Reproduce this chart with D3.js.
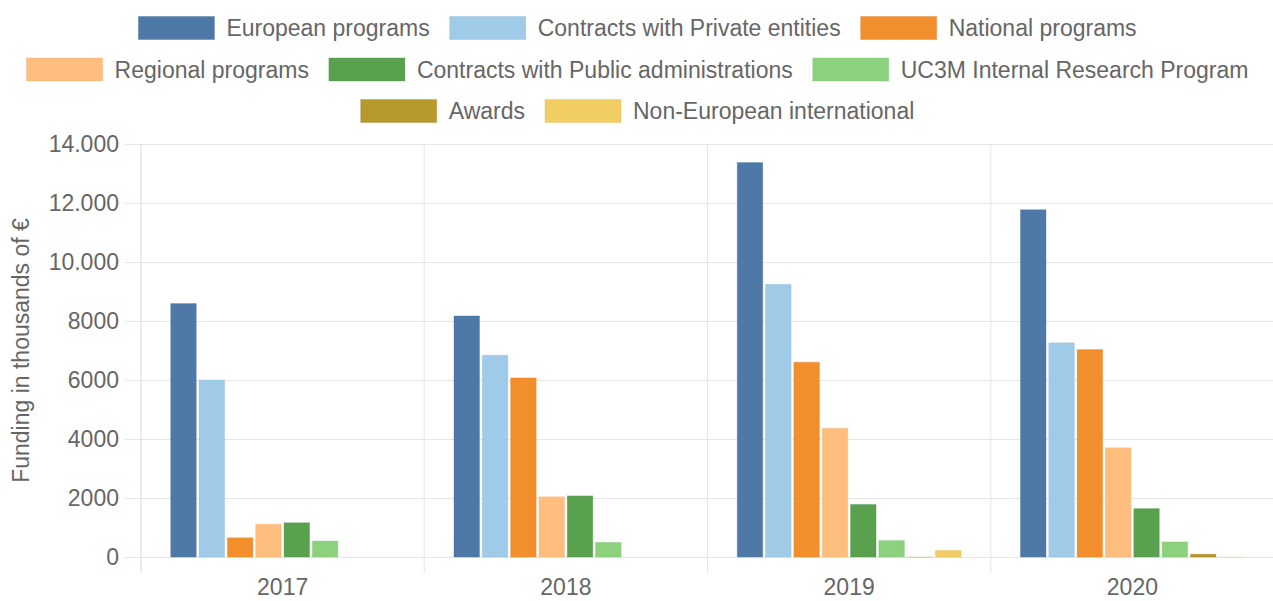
<!DOCTYPE html>
<html>
<head>
<meta charset="utf-8">
<script src="https://cdn.jsdelivr.net/npm/d3@7"></script>
<style>
  html, body { margin: 0; padding: 0; background: #fff; }
  svg { display: block; font-family: "Liberation Sans", Arial, sans-serif; }
</style>
</head>
<body>
<svg id="chart" width="1273" height="601"></svg>
<script>
const years = ["2017", "2018", "2019", "2020"];
const seriesNames = [
  "European programs",
  "Contracts with Private entities",
  "National programs",
  "Regional programs",
  "Contracts with Public administrations",
  "UC3M Internal Research Program",
  "Awards",
  "Non-European international"
];
const seriesColors = ["#4e79a7", "#a0cbe8", "#f28e2b", "#ffbe7d", "#59a14f", "#8cd17d", "#b6992d", "#f1ce63"];
const europeanPrograms = [8590, 8170, 13370, 11770];
const privateContracts = [6000, 6840, 9240, 7260];
const nationalPrograms = [650, 6070, 6600, 7030];
const regionalPrograms = [1110, 2040, 4360, 3700];
const publicContracts = [1160, 2070, 1780, 1640];
const internalProgram = [540, 495, 555, 510];
const awards = [0, 0, 5, 95];
const nonEuropean = [0, 0, 220, 5];
const seriesValues = [europeanPrograms, privateContracts, nationalPrograms, regionalPrograms,
                      publicContracts, internalProgram, awards, nonEuropean];
const yTickValues = [0, 2000, 4000, 6000, 8000, 10000, 12000, 14000];
const yTickLabels = ["0", "2000", "4000", "6000", "8000", "10.000", "12.000", "14.000"];
const yTitle = "Funding in thousands of €";

(function () {
const svg = d3.select("#chart");
const pLeft = 141, pRight = 1274, pTop = 144, pBottom = 557;
const textColor = "#666";
const gridColor = "#e6e6e6";
const fontSize = 23;

const x = d3.scaleBand().domain(years).range([pLeft, pRight]).padding(0);
const xInner = d3.scaleBand().domain(d3.range(seriesNames.length))
  .range([x.bandwidth() * 0.1, x.bandwidth() * 0.9]).paddingInner(0.1).paddingOuter(0.05);
const y = d3.scaleLinear().domain([0, 14000]).range([pBottom, pTop]);

// horizontal gridlines + y labels
const yAxis = d3.axisLeft(y).tickValues(yTickValues)
  .tickFormat((d, i) => yTickLabels[i])
  .tickSize(0).tickPadding(6);
const gy = svg.append("g").attr("transform", `translate(${pLeft - 16},0)`);
gy.call(yAxis);
gy.select(".domain").remove();
gy.selectAll(".tick line").attr("stroke", gridColor).attr("x1", 0).attr("x2", pRight - pLeft + 16);
gy.selectAll(".tick text").attr("fill", textColor).attr("font-size", fontSize)
  .attr("font-family", "Liberation Sans, Arial, sans-serif").attr("x", -6);

// vertical gridlines at category boundaries
const bounds = years.map(d => x(d)).concat([pRight]);
svg.append("g").selectAll("line").data(bounds).join("line")
  .attr("x1", d => d).attr("x2", d => d)
  .attr("y1", pTop).attr("y2", pBottom + 16)
  .attr("stroke", (d, i) => i === 0 ? "#d8d8d8" : gridColor).attr("stroke-width", 1);

// x labels
const xAxis = d3.axisBottom(x).tickSize(0).tickPadding(0);
const gx = svg.append("g").attr("transform", `translate(0,${pBottom})`).call(xAxis);
gx.select(".domain").remove();
gx.selectAll(".tick text").attr("fill", textColor).attr("font-size", fontSize)
  .attr("font-family", "Liberation Sans, Arial, sans-serif")
  .attr("y", 38).attr("dy", 0);

// bars
const barData = [];
years.forEach((yr, yi) => {
  seriesValues.forEach((vals, si) => {
    barData.push({ yr, si, v: vals[yi] });
  });
});
svg.append("g").selectAll("rect").data(barData.filter(d => d.v > 0)).join("rect")
  .attr("x", d => x(d.yr) + xInner(d.si))
  .attr("width", xInner.bandwidth())
  .attr("y", d => y(d.v))
  .attr("height", d => Math.max(0.5, y(0) - y(d.v)))
  .attr("fill", d => seriesColors[d.si])
  .attr("stroke", d => d3.color(seriesColors[d.si]).darker(0.3))
  .attr("stroke-opacity", d => d.v < 20 ? 0 : 0.35)
  .attr("stroke-width", 1);

// y title
svg.append("text")
  .attr("transform", `translate(29,${(pTop + pBottom) / 2}) rotate(-90)`)
  .attr("text-anchor", "middle")
  .attr("fill", textColor).attr("font-size", fontSize)
  .text(yTitle);

// legend
const rows = [[0, 1, 2], [3, 4, 5], [6, 7]];
const rowY = [28, 69.5, 111];
const boxW = 76, boxH = 23, boxGap = 12, itemGap = 20;
const centerX = 637.5;
const measure = svg.append("text").attr("font-size", fontSize).attr("visibility", "hidden");
function tw(s) { measure.text(s); return measure.node().getComputedTextLength(); }
rows.forEach((row, ri) => {
  const widths = row.map(i => boxW + boxGap + tw(seriesNames[i]));
  const total = d3.sum(widths) + itemGap * (row.length - 1);
  let cx = centerX - total / 2;
  row.forEach((si, k) => {
    const g = svg.append("g").attr("transform", `translate(${cx},${rowY[ri]})`);
    g.append("rect").attr("x", 0).attr("y", -boxH / 2).attr("width", boxW).attr("height", boxH)
      .attr("fill", seriesColors[si])
      .attr("stroke", d3.color(seriesColors[si]).darker(0.3)).attr("stroke-opacity", 0.35);
    g.append("text").attr("x", boxW + boxGap).attr("y", 0).attr("dy", "0.35em")
      .attr("fill", textColor).attr("font-size", fontSize).text(seriesNames[si]);
    cx += widths[k] + itemGap;
  });
});
measure.remove();
})();
</script>
</body>
</html>
